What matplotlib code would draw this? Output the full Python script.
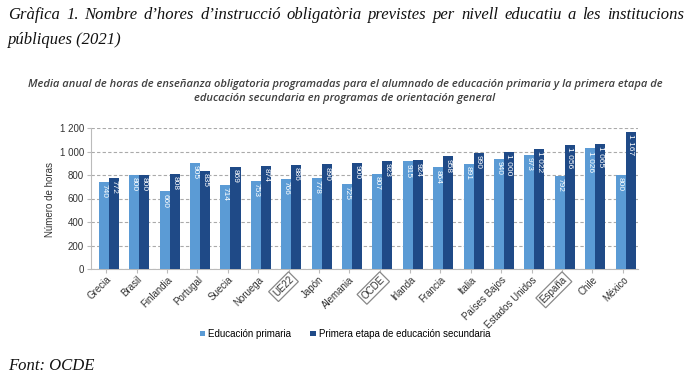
import matplotlib
matplotlib.use("Agg")
import matplotlib.pyplot as plt
import numpy as np

categories = ["Grecia", "Brasil", "Finlandia", "Portugal", "Suecia", "Noruega", "UE22",
              "Japón", "Alemania", "OCDE", "Irlanda", "Francia", "Italia", "Países Bajos",
              "Estados Unidos", "España", "Chile", "México"]
primaria = [740, 800, 660, 905, 714, 753, 766, 778, 725, 807, 915, 864, 891, 940, 973, 792, 1026, 800]
secundaria = [772, 800, 808, 835, 869, 874, 886, 890, 900, 923, 924, 958, 990, 1000, 1022, 1056, 1065, 1167]
boxed = ["UE22", "OCDE", "España"]
series_names = ["Educación primaria", "Primera etapa de educación secundaria"]
yticks = [0, 200, 400, 600, 800, 1000, 1200]

def fmt(v):
    return f"{v:,}".replace(",", " ")

W, H = 691, 390
fig = plt.figure(figsize=(W / 100, H / 100), dpi=100)

c1 = "#5b9bd5"
c2 = "#1f4a87"

ax = fig.add_axes([91 / W, 1 - 269 / H, (638 - 91) / W, (269 - 128) / H])
x = np.arange(len(categories))
bw = 0.33
b1 = ax.bar(x - bw / 2 + 0.09, primaria, bw, color=c1, label=series_names[0], zorder=3)
b2 = ax.bar(x + bw / 2 + 0.09, secundaria, bw, color=c2, label=series_names[1], zorder=3)
for bars, vals in ((b1, primaria), (b2, secundaria)):
    for r, v in zip(bars, vals):
        ax.text(r.get_x() + r.get_width() / 2, v - 18, fmt(v), rotation=-90,
                ha="center", va="top", color="white", fontsize=6,
                family="Liberation Sans", zorder=4)

ax.set_xlim(-0.5, len(categories) - 0.5)
ax.set_ylim(0, 1200)
ax.set_yticks(yticks)
ax.set_yticklabels([fmt(v) for v in yticks], fontsize=7, family="Liberation Sans", color="#333333")
ax.yaxis.grid(True, linestyle=(0, (3, 2)), color="#aaaaaa", linewidth=0.8, zorder=0)
ax.set_axisbelow(True)
for s in ("top", "right"):
    ax.spines[s].set_visible(False)
ax.spines["left"].set_color("#bbbbbb")
ax.spines["bottom"].set_color("#bbbbbb")
ax.tick_params(axis="y", length=3, color="#bbbbbb", pad=2)
ax.tick_params(axis="x", length=3, color="#bbbbbb", pad=1)
ax.set_xticks(x)
ax.set_xticklabels(categories, rotation=45, ha="right", rotation_mode="anchor",
                   fontsize=7, family="Liberation Sans", color="#333333")
for lab in ax.get_xticklabels():
    if lab.get_text() in boxed:
        lab.set_bbox(dict(boxstyle="square,pad=0.2", fc="white", ec="#888888", lw=0.9))
ax.set_ylabel("Número de horas", fontsize=7, family="Liberation Sans", color="#333333")
ax.yaxis.set_label_coords((55 - 91) / 547, 0.49)

leg_x = (345 - 91) / 547
ax.legend(loc="center", bbox_to_anchor=(leg_x, -(334 - 269) / 141), ncol=2, frameon=False,
          prop={"family": "Liberation Sans", "size": 7},
          handlelength=0.55, handleheight=0.55, handletextpad=0.3, columnspacing=2.0)

# subtitle
skw = dict(ha="center", va="center", fontsize=8, style="italic", weight="semibold",
           family="Open Sans", color="#404040")
fig.text(345 / W, 1 - 84 / H, "Media anual de horas de enseñanza obligatoria programadas para el alumnado de educación primaria y la primera etapa de", **skw)
fig.text(345 / W, 1 - 98 / H, "educación secundaria en programas de orientación general", **skw)

# justified title line
renderer = fig.canvas.get_renderer()
def justified(text, y, x0, x1, **kw):
    words = text.split(" ")
    ts = [fig.text(0, 0, w, **kw) for w in words]
    widths = [t.get_window_extent(renderer).width for t in ts]
    gap = (x1 - x0 - sum(widths)) / (len(words) - 1)
    xp = x0
    for t, w in zip(ts, widths):
        t.set_position((xp / W, 1 - y / H))
        xp += w + gap

tkw = dict(fontsize=12, style="italic", family="Liberation Serif", color="#111111", va="center", ha="left")
justified("Gràfica 1. Nombre d’hores d’instrucció obligatòria previstes per nivell educatiu a les institucions", 15, 8, 684, **tkw)
fig.text(8 / W, 1 - 40 / H, "públiques (2021)", **tkw)
fig.text(8 / W, 1 - 366 / H, "Font: OCDE", **tkw)

fig.savefig("out.png", dpi=100)
